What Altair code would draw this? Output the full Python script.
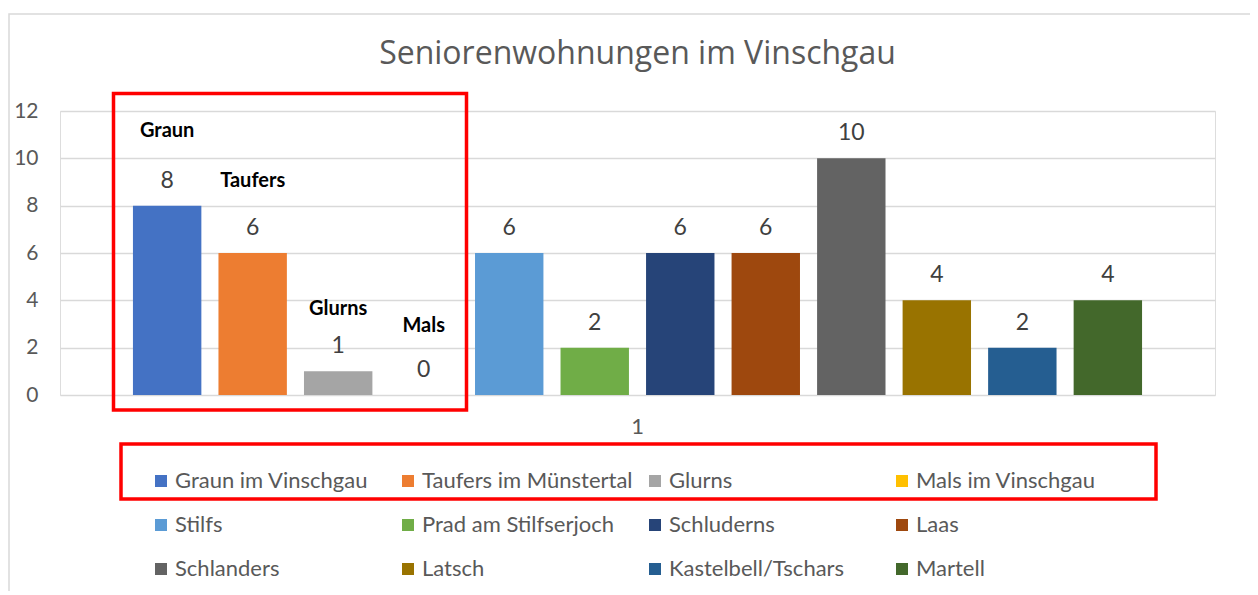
import altair as alt
import pandas as pd

series = ["Graun im Vinschgau", "Taufers im Münstertal", "Glurns", "Mals im Vinschgau",
          "Stilfs", "Prad am Stilfserjoch", "Schluderns", "Laas",
          "Schlanders", "Latsch", "Kastelbell/Tschars", "Martell"]
values = [8, 6, 1, 0, 6, 2, 6, 6, 10, 4, 2, 4]
colors = ["#4472C4", "#ED7D31", "#A5A5A5", "#FFC000",
          "#5B9BD5", "#70AD47", "#264478", "#9E480E",
          "#636363", "#997300", "#255E91", "#43682B"]
category = "1"
y_ticks = [0, 2, 4, 6, 8, 10, 12]

# bold annotations above the first four bars
ann_series = ["Graun im Vinschgau", "Taufers im Münstertal", "Glurns", "Mals im Vinschgau"]
ann_text = ["Graun", "Taufers", "Glurns", "Mals"]
ann_y = [11.15, 9.04, 3.63, 2.92]

df = pd.DataFrame({"cat": [category] * len(series), "series": series, "value": values})
ann_df = pd.DataFrame({"cat": [category] * len(ann_series), "series": ann_series,
                       "label": ann_text, "ypos": ann_y})

FONT = "Lato"
GRAY = "#595959"

x_enc = alt.X("cat:N", title=None,
              scale=alt.Scale(paddingInner=0, paddingOuter=0),
              axis=alt.Axis(labelAngle=0, ticks=False, domain=False, labelPadding=21,
                            labelFont=FONT, labelFontSize=22, labelColor=GRAY))
xo_enc = alt.XOffset("series:N", sort=series,
                     scale=alt.Scale(domain=series, paddingInner=0.2, paddingOuter=0.853))
y_scale = alt.Scale(domain=[0, 12], nice=False)

bars = alt.Chart(df).mark_bar().encode(
    x=x_enc,
    xOffset=xo_enc,
    y=alt.Y("value:Q", title=None, scale=y_scale,
            axis=alt.Axis(values=y_ticks, domain=False, ticks=False, labelPadding=22,
                          labelFont=FONT, labelFontSize=21, labelColor=GRAY,
                          grid=True, gridColor="#d9d9d9", gridWidth=1.3)),
    color=alt.Color("series:N", sort=series,
                    scale=alt.Scale(domain=series, range=colors),
                    legend=alt.Legend(title=None, orient="none", legendX=90, legendY=359,
                                      direction="horizontal",
                                      columns=4, gridAlign="all", symbolType="square",
                                      symbolSize=144, symbolStrokeWidth=0,
                                      labelFont=FONT, labelFontSize=22, labelColor=GRAY,
                                      labelOffset=3, columnPadding=11, rowPadding=22,
                                      labelLimit=400)),
)

vals = alt.Chart(df).mark_text(font=FONT, fontSize=23, color="#404040",
                               baseline="middle", dy=-25).encode(
    x=alt.X("cat:N"), xOffset=xo_enc, y=alt.Y("value:Q", scale=y_scale),
    text=alt.Text("value:Q"),
)

anns = alt.Chart(ann_df).mark_text(font=FONT, fontSize=20, fontWeight="bold", color="#000000",
                                   baseline="middle").encode(
    x=alt.X("cat:N"), xOffset=alt.XOffset("series:N", sort=series), y=alt.Y("ypos:Q", scale=y_scale),
    text="label:N",
)

one = alt.Data(values=[{"k": 1}])
frame = alt.Chart(one).mark_rect(fill=None, stroke="#d9d9d9", strokeWidth=1.5).encode(
    x=alt.value(-51), x2=alt.value(1300), y=alt.value(-97), y2=alt.value(600))
red1 = alt.Chart(one).mark_rect(fill=None, stroke="#FF0000", strokeWidth=3.5).encode(
    x=alt.value(53.5), x2=alt.value(406.5), y=alt.value(-17.5), y2=alt.value(299))
red2 = alt.Chart(one).mark_rect(fill=None, stroke="#FF0000", strokeWidth=3.5).encode(
    x=alt.value(61), x2=alt.value(1096), y=alt.value(333), y2=alt.value(388))

chart = alt.layer(frame, bars, vals, anns, red1, red2).properties(
    width=1155, height=284,
    title=alt.TitleParams("Seniorenwohnungen im Vinschgau", font="Open Sans", fontSize=32,
                          fontWeight="normal", color=GRAY, anchor="middle", frame="group",
                          baseline="alphabetic", offset=-83),
    autosize=alt.AutoSizeParams(type="none"),
    padding={"left": 52, "top": 103, "right": 35, "bottom": 196},
).configure_view(stroke=None).configure(background="white")

chart.save("out.html", embed_options={"renderer": "svg", "actions": False})
